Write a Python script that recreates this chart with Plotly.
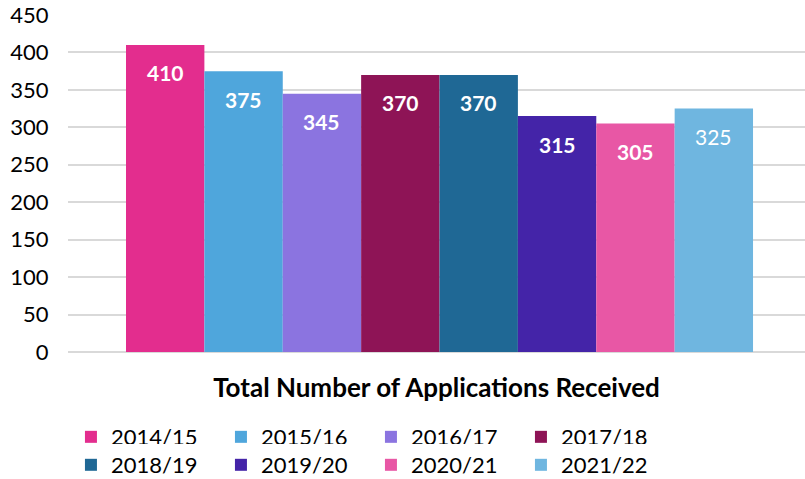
import plotly.graph_objects as go

years = ["2014/15", "2015/16", "2016/17", "2017/18", "2018/19", "2019/20", "2020/21", "2021/22"]
values = [410, 375, 345, 370, 370, 315, 305, 325]
colors = ["#E32D8E", "#4FA6DC", "#8B74E0", "#8E1456", "#1F6895", "#4424A8", "#E857A5", "#6FB6E0"]
bold_label = [True, True, True, True, True, True, True, False]
x_title = "Total Number of Applications Received"
y_ticks = [0, 50, 100, 150, 200, 250, 300, 350, 400, 450]

FONT = "Lato"
fig = go.Figure()
for i, (yr, v, c) in enumerate(zip(years, values, colors)):
    fig.add_trace(go.Bar(x=[i], y=[v], name=yr, marker=dict(color=c, line=dict(width=0)),
                         width=1.0, hoverinfo="skip",
                         legend=("legend" if i < 4 else "legend2")))
    fig.add_annotation(x=i, y=v, yshift=-28, showarrow=False,
                       text=(f"<b>{v}</b>" if bold_label[i] else str(v)),
                       font=dict(family=FONT, size=21, color="white"))

leg_common = dict(orientation="h", x=0.004, xanchor="left", yanchor="top",
                  entrywidth=105, entrywidthmode="pixels",
                  font=dict(family=FONT, size=22, color="#000"),
                  tracegroupgap=0, itemclick=False, itemdoubleclick=False)

fig.update_layout(
    width=805, height=479,
    margin=dict(l=68, r=0, t=15, b=127, autoexpand=False),
    paper_bgcolor="white", plot_bgcolor="white",
    barmode="overlay",
    font=dict(family=FONT, size=20, color="#000000"),
    showlegend=True,
    legend=dict(y=-0.19, **leg_common),
    legend2=dict(y=-0.273, **leg_common),
)
fig.update_xaxes(range=[-1.24, 8.163], showticklabels=False, showgrid=False,
                 zeroline=False, showline=False, ticks="", automargin=False,
                 title=dict(text=f"<b>{x_title}</b>", standoff=26,
                            font=dict(family=FONT, size=26, color="#000")))
fig.update_yaxes(range=[0, 450], tickvals=y_ticks, showgrid=True, gridcolor="#D9D9D9",
                 gridwidth=2, zeroline=True, zerolinecolor="#D9D9D9", zerolinewidth=2,
                 showline=False, ticks="outside", ticklen=14, tickcolor="rgba(0,0,0,0)",
                 automargin=False, ticklabeloverflow="allow",
                 tickfont=dict(family=FONT, size=22, color="#000"))

fig.write_html("out.html", config={"displayModeBar": False},
               post_script="document.body.style.margin='0';")
